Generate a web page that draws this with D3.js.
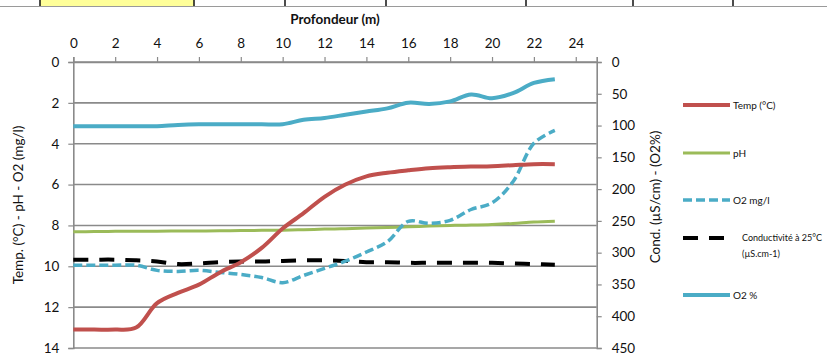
<!DOCTYPE html>
<html>
<head>
<meta charset="utf-8">
<script src="https://cdn.jsdelivr.net/npm/d3@7/dist/d3.min.js"></script>
<style>
  html, body { margin: 0; padding: 0; background: #fff; }
  svg text { font-family: Lato, "Open Sans", sans-serif; fill: #111; }
</style>
</head>
<body>
<svg id="chart" width="827" height="361"></svg>
<script>
// Depth profile (m)
const depths = [0,1,2,3,4,5,6,7,8,9,10,11,12,13,14,15,16,17,18,19,20,21,22,23];

// Left-axis series
const temp  = [13.1,13.1,13.1,13.0,11.8,11.3,10.9,10.3,9.8,9.1,8.15,7.4,6.6,6.0,5.6,5.42,5.3,5.2,5.15,5.12,5.1,5.05,5.0,5.0];
const ph    = [8.31,8.3,8.29,8.29,8.28,8.27,8.27,8.26,8.25,8.24,8.23,8.21,8.18,8.16,8.13,8.1,8.07,8.03,8.0,7.98,7.95,7.9,7.83,7.79];
const o2mg  = [9.95,9.95,9.95,9.95,10.2,10.25,10.2,10.3,10.4,10.55,10.8,10.45,10.1,9.75,9.3,8.8,7.8,7.9,7.75,7.22,6.9,5.86,3.98,3.35];

// Right-axis series
const cond  = [311,311,311,312,314,318,317,315,314,314,313,312,312,313,315,315,316,316,316,316,316,317,318,319];
const o2pct = [101,101,101,101,101,99,98,98,98,98,98,91,88,83,78,73,64,66,62,51,57,49,33,27];

// Tick values
const xTicks = [0,2,4,6,8,10,12,14,16,18,20,22,24];
const yLeftTicks = [0,2,4,6,8,10,12,14];
const yRightTicks = [0,50,100,150,200,250,300,350,400,450];

// Spreadsheet cell borders above the chart
const cellEdges = [40,194,285,386,526,633,733];

const svg = d3.select("#chart");
const m = {left: 73.3, right: 596.7, top: 62, bottom: 348};

const x = d3.scaleLinear().domain([0, 25]).range([m.left, m.right]);
const yL = d3.scaleLinear().domain([0, 14]).range([m.top, m.bottom]);
const yR = d3.scaleLinear().domain([0, 450]).range([m.top, m.bottom]);

// Sheet cells
svg.append("rect").attr("x", cellEdges[0]).attr("y", 0)
  .attr("width", cellEdges[1] - cellEdges[0]).attr("height", 6)
  .attr("fill", "#ffff99");
svg.append("line").attr("x1", 0).attr("x2", 827).attr("y1", 6.5).attr("y2", 6.5)
  .attr("stroke", "#9a9a9a").attr("stroke-width", 1.2);
cellEdges.forEach(cx => {
  svg.append("line").attr("x1", cx).attr("x2", cx).attr("y1", 0).attr("y2", 6)
    .attr("stroke", "#111").attr("stroke-width", 1.5);
});

const grid = "#8a8a8a";

// Horizontal gridlines (left axis)
svg.append("g").selectAll("line").data(yLeftTicks).join("line")
  .attr("x1", m.left).attr("x2", m.right)
  .attr("y1", d => yL(d)).attr("y2", d => yL(d))
  .attr("stroke", grid).attr("stroke-width", 1.6);

// Top axis
const xAxis = d3.axisTop(x).tickValues(xTicks).tickSize(5).tickPadding(9);
const gx = svg.append("g").attr("transform", `translate(0,${m.top})`).call(xAxis);
gx.select(".domain").attr("stroke", grid).attr("stroke-width", 1.6);
gx.selectAll(".tick line").attr("stroke", grid).attr("stroke-width", 1.2);
gx.selectAll("text").attr("font-size", 13.5).attr("font-family", "Lato, sans-serif").attr("fill", "#111");

// Left axis
const yAxisL = d3.axisLeft(yL).tickValues(yLeftTicks).tickSize(5).tickPadding(9);
const gl = svg.append("g").attr("transform", `translate(${m.left},0)`).call(yAxisL);
gl.select(".domain").attr("stroke", grid).attr("stroke-width", 1.6);
gl.selectAll(".tick line").attr("stroke", grid).attr("stroke-width", 1.2);
gl.selectAll("text").attr("font-size", 13.5).attr("font-family", "Lato, sans-serif").attr("fill", "#111");

// Right axis
const yAxisR = d3.axisRight(yR).tickValues(yRightTicks).tickSize(5).tickPadding(10);
const gr = svg.append("g").attr("transform", `translate(${m.right},0)`).call(yAxisR);
gr.select(".domain").attr("stroke", grid).attr("stroke-width", 1.6);
gr.selectAll(".tick line").attr("stroke", grid).attr("stroke-width", 1.2);
gr.selectAll("text").attr("font-size", 13.5).attr("font-family", "Lato, sans-serif").attr("fill", "#111");

// Axis titles
svg.append("text").attr("x", (m.left + m.right) / 2).attr("y", 24)
  .attr("text-anchor", "middle").attr("font-size", 13.5).attr("font-weight", "bold")
  .text("Profondeur (m)");
svg.append("text")
  .attr("transform", `translate(23,${(m.top + m.bottom) / 2}) rotate(-90)`)
  .attr("text-anchor", "middle").attr("font-size", 13.5)
  .text("Temp. (°C) - pH - O2 (mg/l)");
svg.append("text")
  .attr("transform", `translate(660,${(m.top + m.bottom) / 2 - 8}) rotate(-90)`)
  .attr("text-anchor", "middle").attr("font-size", 13.5)
  .text("Cond. (µS/cm) - (O2%)");

// Series
const series = [
  {name: "Temp (°C)", values: temp, y: yL, color: "#c0504d", width: 4, dash: null},
  {name: "pH", values: ph, y: yL, color: "#9bbb59", width: 3, dash: null},
  {name: "O2  mg/l", values: o2mg, y: yL, color: "#4bacc6", width: 3.5, dash: "9,4"},
  {name: "Conductivité à 25°C|(µS.cm-1)", values: cond, y: yR, color: "#000", width: 4, dash: "15,11"},
  {name: "O2 %", values: o2pct, y: yR, color: "#4bacc6", width: 4, dash: null}
];

const plotOrder = [4, 1, 3, 2, 0];
plotOrder.forEach(i => {
  const s = series[i];
  const line = d3.line()
    .x((d, j) => x(depths[j]))
    .y(d => s.y(d))
    .curve(d3.curveCatmullRom.alpha(0.5));
  svg.append("path").datum(s.values)
    .attr("d", line)
    .attr("fill", "none")
    .attr("stroke", s.color)
    .attr("stroke-width", s.width)
    .attr("stroke-linejoin", "round")
    .attr("stroke-dasharray", s.dash);
});

// Legend
const legendY = [105, 153, 200, 238, 295];
const lg = svg.append("g");
series.forEach((s, i) => {
  const ly = legendY[i];
  lg.append("line").attr("x1", 683).attr("x2", 730).attr("y1", ly).attr("y2", ly)
    .attr("stroke", s.color).attr("stroke-width", s.width)
    .attr("stroke-dasharray", s.dash);
  const lines = s.name.split("|");
  const tx = i === 3 ? 742 : 733;
  lines.forEach((t, k) => {
    lg.append("text").attr("x", tx).attr("y", ly + k * 16)
      .attr("dy", "0.35em").attr("font-size", i === 3 ? 9 : 10)
      .text(t);
  });
});
</script>
</body>
</html>
